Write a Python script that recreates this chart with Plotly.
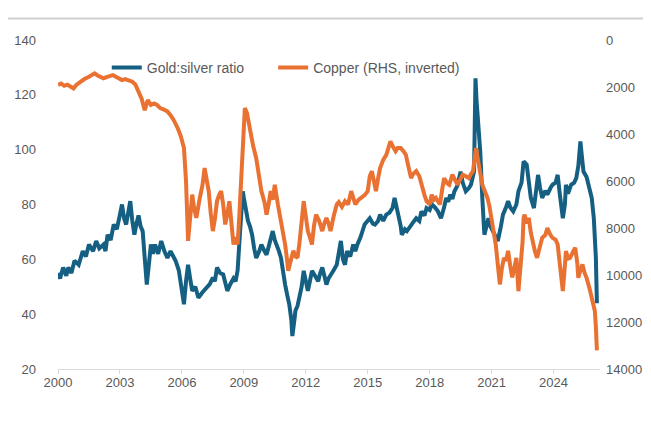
import plotly.graph_objects as go

gs_year = [2000.0, 2000.1, 2000.25, 2000.4, 2000.5, 2000.65, 2000.8, 2001.0, 2001.2, 2001.35, 2001.5, 2001.7, 2001.85,
           2002.0, 2002.2, 2002.3, 2002.4, 2002.55, 2002.7, 2002.85, 2003.0, 2003.1, 2003.2, 2003.3, 2003.4, 2003.5,
           2003.6, 2003.7, 2003.8, 2003.9, 2004.0, 2004.1, 2004.2, 2004.3, 2004.4, 2004.5, 2004.6, 2004.7, 2004.85,
           2005.0, 2005.15, 2005.3, 2005.45, 2005.6, 2005.7, 2005.85, 2006.0, 2006.1, 2006.2, 2006.3, 2006.4, 2006.5,
           2006.65, 2006.8, 2007.0, 2007.2, 2007.35, 2007.5, 2007.6, 2007.7, 2007.85, 2008.0, 2008.1, 2008.2, 2008.35,
           2008.5, 2008.6, 2008.7, 2008.8, 2008.85, 2008.95, 2009.0, 2009.1, 2009.2, 2009.3, 2009.4, 2009.5, 2009.6,
           2009.75, 2009.85, 2010.0, 2010.1, 2010.25, 2010.4, 2010.5, 2010.6, 2010.7, 2010.8, 2010.9, 2011.0, 2011.1,
           2011.2, 2011.3, 2011.35, 2011.45, 2011.5, 2011.6, 2011.7, 2011.8, 2011.9, 2012.0, 2012.1, 2012.2, 2012.3,
           2012.45, 2012.6, 2012.7, 2012.8, 2012.9, 2013.0, 2013.1, 2013.2, 2013.35, 2013.5, 2013.6, 2013.7, 2013.8,
           2013.9, 2014.0, 2014.15, 2014.3, 2014.4, 2014.5, 2014.65, 2014.85, 2015.0, 2015.1, 2015.25, 2015.35, 2015.5,
           2015.6, 2015.75, 2015.9, 2016.05, 2016.2, 2016.3, 2016.4, 2016.5, 2016.6, 2016.65, 2016.8, 2016.9, 2017.0,
           2017.1, 2017.25, 2017.35, 2017.5, 2017.6, 2017.75, 2017.85, 2018.0, 2018.1, 2018.25, 2018.4, 2018.55,
           2018.7, 2018.8, 2018.9, 2019.0, 2019.1, 2019.2, 2019.35, 2019.5, 2019.6, 2019.75, 2019.9, 2020.0, 2020.15,
           2020.2, 2020.22, 2020.27, 2020.3, 2020.38, 2020.45, 2020.55, 2020.65, 2020.75, 2020.85, 2020.95, 2021.05,
           2021.2, 2021.3, 2021.45, 2021.55, 2021.7, 2021.8, 2021.9, 2022.05, 2022.2, 2022.3, 2022.45, 2022.55,
           2022.7, 2022.8, 2022.9, 2023.05, 2023.15, 2023.25, 2023.35, 2023.45, 2023.6, 2023.7, 2023.85, 2023.95,
           2024.1, 2024.2, 2024.3, 2024.45, 2024.55, 2024.6, 2024.7, 2024.85, 2025.0, 2025.1, 2025.2, 2025.3, 2025.38,
           2025.45, 2025.6, 2025.7, 2025.85, 2025.95, 2026.05, 2026.1]
gs_ratio = [55, 53, 57, 54, 57, 55, 59.5, 58, 63, 61, 65.4, 63, 66.7,
            64, 65.4, 63, 69, 67, 72.7, 71, 76.3, 80, 75, 72.7, 77, 81.2,
            74, 69, 73, 76, 72, 70.3, 60.5, 50.8, 58, 65.4, 62, 65.4, 62,
            66.7, 63, 60.5, 63, 61, 59.4, 56, 48.5, 43.6, 52, 58, 53, 48.5,
            50, 46, 48, 49.6, 51, 53.3, 52, 57, 55, 54.5, 51, 48.5, 51,
            53, 52, 56, 68, 75, 84.8, 82.4, 77, 74, 72, 69, 64, 60.5,
            63, 65.4, 63, 61.7, 66, 70.3, 67, 65.4, 63, 60.5, 55, 50.8, 47,
            43.6, 38, 32, 38, 41.3, 43, 46, 50, 55.8, 52, 48.5, 52, 55.8,
            54, 52, 55, 57, 54, 50.8, 53, 54.5, 56, 58, 63, 66.7, 60,
            58, 63, 61, 65.4, 63, 65.4, 68, 72.7, 74, 75, 73, 72.7, 74,
            76.3, 74, 76.3, 77, 78.7, 82.4, 79, 76.3, 72, 69, 71, 70.3, 71.5,
            72.7, 74, 75, 74, 77.5, 76, 78.7, 78, 80, 79, 77.5, 75,
            79, 82.4, 81, 83.6, 82, 84.8, 87, 92, 88, 84.8, 86, 87.2, 92,
            110, 126, 118, 115, 105, 99.4, 82.4, 69, 72, 75, 72, 70.3,
            68, 66.7, 72, 76.3, 79, 81.2, 79, 77.5, 80, 84.8, 88, 95.7,
            94.5, 88, 82.4, 78.7, 84, 90.8, 86, 82.4, 85, 83.6, 86, 87.2,
            88, 90.8, 84, 75, 80, 87.2, 84, 87.2, 88, 89.6, 94, 103, 97,
            92, 90, 87.2, 82.4, 75, 60.5, 44]

cu_year = [2000.0, 2000.15, 2000.3, 2000.45, 2000.6, 2000.75, 2000.9, 2001.1, 2001.3, 2001.5, 2001.65, 2001.77, 2001.9,
           2002.05, 2002.2, 2002.35, 2002.5, 2002.66, 2002.8, 2002.95, 2003.1, 2003.25, 2003.4, 2003.6, 2003.75, 2003.9,
           2004.05, 2004.2, 2004.35, 2004.5, 2004.65, 2004.8, 2004.95, 2005.1, 2005.3, 2005.45, 2005.6, 2005.8, 2005.95,
           2006.1, 2006.2, 2006.3, 2006.4, 2006.5, 2006.6, 2006.7, 2006.85, 2007.0, 2007.1, 2007.2, 2007.3, 2007.4,
           2007.5, 2007.6, 2007.7, 2007.8, 2007.9, 2008.0, 2008.1, 2008.2, 2008.3, 2008.4, 2008.5, 2008.6, 2008.7,
           2008.78, 2008.85, 2008.92, 2009.0, 2009.05, 2009.15, 2009.3, 2009.45, 2009.6, 2009.75, 2009.85, 2010.0,
           2010.1, 2010.2, 2010.3, 2010.4, 2010.5, 2010.65, 2010.8, 2010.9, 2011.0, 2011.1, 2011.15, 2011.3, 2011.4,
           2011.5, 2011.6, 2011.7, 2011.8, 2011.9, 2012.0, 2012.1, 2012.2, 2012.3, 2012.4, 2012.5, 2012.65, 2012.8,
           2012.9, 2013.0, 2013.1, 2013.2, 2013.35, 2013.5, 2013.6, 2013.75, 2013.9, 2014.05, 2014.2, 2014.3, 2014.4,
           2014.55, 2014.7, 2014.85, 2015.0, 2015.1, 2015.2, 2015.3, 2015.4, 2015.5, 2015.6, 2015.75, 2015.9, 2016.0,
           2016.1, 2016.2, 2016.35, 2016.45, 2016.6, 2016.75, 2016.85, 2016.95, 2017.1, 2017.2, 2017.35, 2017.5,
           2017.6, 2017.75, 2017.85, 2018.0, 2018.1, 2018.2, 2018.3, 2018.4, 2018.5, 2018.6, 2018.7, 2018.85, 2018.95,
           2019.1, 2019.25, 2019.35, 2019.5, 2019.6, 2019.75, 2019.9, 2020.0, 2020.1, 2020.2, 2020.25, 2020.3, 2020.4,
           2020.5, 2020.55, 2020.7, 2020.8, 2020.9, 2021.0, 2021.1, 2021.2, 2021.3, 2021.4, 2021.5, 2021.6, 2021.7,
           2021.8, 2021.9, 2022.0, 2022.1, 2022.2, 2022.3, 2022.4, 2022.5, 2022.55, 2022.6, 2022.7, 2022.8, 2022.9,
           2023.0, 2023.1, 2023.2, 2023.35, 2023.45, 2023.6, 2023.7, 2023.85, 2023.95, 2024.1, 2024.2, 2024.3, 2024.4,
           2024.45, 2024.55, 2024.6, 2024.7, 2024.8, 2024.95, 2025.05, 2025.15, 2025.2, 2025.3, 2025.4, 2025.5, 2025.6,
           2025.75, 2025.85, 2025.95, 2026.0, 2026.05, 2026.1]
cu_price = [1917, 1850, 1950, 1900, 1980, 2057, 1900, 1750, 1650, 1560, 1500, 1420, 1500,
            1560, 1633, 1580, 1540, 1492, 1560, 1650, 1704, 1660, 1720, 1775, 1900, 2200,
            2500, 2990, 2553, 2765, 2700, 2765, 2900, 2950, 3040, 3200, 3400, 3754, 4100,
            4600, 6000, 8550, 7500, 6580, 7200, 7570, 6800, 6160, 5450, 5900, 6430, 7400,
            8130, 7600, 6860, 6600, 6430, 7000, 7850, 7400, 6860, 7800, 8700, 8400, 8700,
            7500, 6430, 4800, 3600, 2900, 3100, 3880, 4500, 5030, 5800, 6430, 6900,
            7430, 7000, 6430, 6800, 6160, 7000, 7700, 8200, 8700, 9400, 9820, 9300, 8970,
            9200, 9270, 8600, 7860, 6860, 7500, 8130, 8400, 8700, 7900, 7430, 7700, 8130,
            7800, 7570, 7800, 8130, 7500, 7000, 6900, 7100, 6860, 7000, 6430, 6700, 7000,
            6800, 6720, 6600, 6430, 5800, 5580, 6000, 6430, 5900, 5450, 5100, 4890, 4600,
            4310, 4500, 4730, 4600, 4600, 4750, 4890, 5300, 5880, 5700, 5580, 5800,
            6160, 6600, 6860, 7000, 6580, 6800, 6720, 6900, 7000, 6400, 5880, 6100, 6160,
            5730, 6000, 6160, 5900, 5730, 5800, 5880, 5700, 5580, 4900, 4600, 4900, 5450,
            5900, 6160, 6500, 6720, 7100, 7570, 8100, 8700, 9550, 10400, 9700, 9270, 9400,
            8970, 9600, 10100, 9700, 9270, 10690, 9820, 8600, 7570, 7430, 7800, 7570, 8200,
            8700, 9000, 9270, 8800, 8420, 8300, 8000, 8300, 8420, 8500, 8700, 9500, 10400,
            10680, 9600, 8980, 9300, 9270, 9000, 8840, 9500, 10120, 9800, 9550, 9900, 10120,
            10600, 10970, 11300, 11530, 12200, 13210]

x_ticks = [2000, 2003, 2006, 2009, 2012, 2015, 2018, 2021, 2024]
x_tick_labels = [str(t) for t in x_ticks]

GREY = "#595959"
FONT = "Liberation Sans, Arial, sans-serif"

fig = go.Figure()
fig.add_trace(go.Scatter(x=gs_year, y=gs_ratio, mode="lines", name="Gold:silver ratio",
                         line=dict(color="#156082", width=4), yaxis="y", legend="legend"))
fig.add_trace(go.Scatter(x=cu_year, y=cu_price, mode="lines", name="Copper (RHS, inverted)",
                         line=dict(color="#E97132", width=4), yaxis="y2", legend="legend2"))

fig.add_shape(type="line", xref="paper", yref="paper", x0=-0.1, x1=1.12, y0=1.065, y1=1.065,
              line=dict(color="#cfcfcf", width=2))

legend_common = dict(orientation="h", y=0.915, xanchor="left", yanchor="middle",
                     font=dict(size=14, color=GREY), bgcolor="rgba(0,0,0,0)")

fig.update_layout(
    width=651, height=448,
    margin=dict(l=50, r=59, t=31.5, b=86.5, autoexpand=False),
    paper_bgcolor="white", plot_bgcolor="white",
    font=dict(family=FONT, size=13, color=GREY),
    showlegend=True,
    legend=dict(x=0.09, **legend_common),
    legend2=dict(x=0.397, **legend_common),
    xaxis=dict(range=[2000, 2026.25], tickvals=x_ticks, ticktext=x_tick_labels, showgrid=False,
               zeroline=False, showline=True, linecolor="#d9d9d9", linewidth=1, automargin=False,
               ticks="outside", ticklen=4, tickcolor="#d9d9d9", ticklabelstandoff=-3),
    yaxis=dict(range=[20, 140], dtick=20, showgrid=False, zeroline=False, showline=False,
               automargin=False, ticklabelstandoff=21),
    yaxis2=dict(range=[14000, 0], dtick=2000, tickformat="d", overlaying="y", side="right",
                showgrid=False, zeroline=False, showline=False, automargin=False,
                ticklabelstandoff=5),
)

fig.write_html("out.html")
